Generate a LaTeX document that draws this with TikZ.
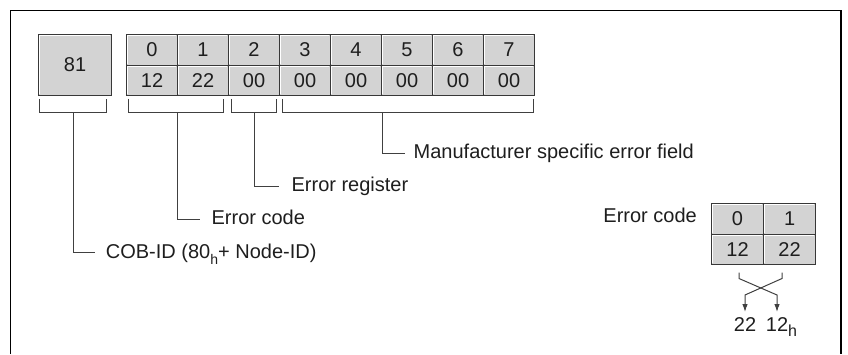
\documentclass[tikz,border=0pt]{standalone}
\usepackage{fontspec}
\setmainfont{Liberation Sans}
\usetikzlibrary{arrows.meta}
\definecolor{cellgray}{HTML}{D3D3D3}
\definecolor{edge}{HTML}{383838}
\definecolor{ink}{HTML}{1E1E1E}
\definecolor{lnkc}{HTML}{404040}
\newcommand{\hsubA}{\raisebox{-6pt}{\fontsize{14}{14}\selectfont h}}
\newcommand{\hsubB}{\raisebox{-5.5pt}{\fontsize{16}{16}\selectfont h}}
\begin{document}
\begin{tikzpicture}[x=1pt,y=-1pt,
  every node/.style={font=\fontsize{20}{24}\selectfont, text=ink},
  cell/.style={draw=edge, line width=1.1pt, fill=cellgray, inner sep=0pt,
    minimum width=51pt, minimum height=30.5pt, anchor=north west,
    path picture={\draw[white,line width=1pt]
      ([xshift=1.3pt,yshift=1.3pt]path picture bounding box.south west) |-
      ([xshift=-1.3pt,yshift=-1.3pt]path picture bounding box.north east);}},
  brk/.style={draw=none, inner sep=0pt, minimum height=13pt},
  lnk/.style={draw=lnkc, line width=1pt},
  lbl/.style={anchor=base west, inner ysep=0pt, text height=14.5pt, text depth=4pt},
  outl/.style={anchor=base, inner xsep=0pt, inner ysep=4.5pt, text height=14.3pt, text depth=0pt},
  tip/.style={-{Latex[length=8pt,width=5.5pt]}}
]
\useasboundingbox (0,0) rectangle (848,354);
% frame
\draw[line width=1.5pt] (10.5,354) -- (10.5,10.5) -- (841,10.5) -- (841,354);

% COB-ID box
\node[cell, minimum width=73pt, minimum height=61pt] (cob) at (38,34) {81};
% byte grid
\foreach \i/\v in {0/12,1/22,2/00,3/00,4/00,5/00,6/00,7/00}{
  \node[cell] (h\i) at ({126+51*\i},34) {\i};
  \node[cell] (v\i) at ({126+51*\i},64.5) {\v};
}

% brackets
\node[brk, minimum width=66pt] (bk0) at (73,105.5) {};
\node[brk, minimum width=94pt] (bk1) at (176,105.5) {};
\node[brk, minimum width=44pt] (bk2) at (254,105.5) {};
\node[brk, minimum width=250pt] (bk3) at (408,105.5) {};
\foreach \b in {bk0,bk1,bk2,bk3}{
  \draw[lnk] (\b.north west) |- (\b.south east) -- (\b.north east);
}

% labels
\node[lbl, inner xsep=8.5pt] (lm) at (405,158.5) {Manufacturer specific error field};
\node[lbl, inner xsep=12.4pt] (lr) at (279,191.5) {Error register};
\node[lbl, inner xsep=11.4pt] (lc) at (200,224.5) {Error code};
\node[lbl, inner xsep=10.7pt] (lcob) at (95,258) {COB-ID (80\hsubA+ Node-ID)};

\draw[lnk] ([xshift=-26pt]bk3.south) |- (lm.west);
\draw[lnk] (bk2.south) |- (lr.west);
\draw[lnk] ([xshift=1pt]bk1.south) |- (lc.west);
\draw[lnk] (bk0.south) |- (lcob.west);

% error code detail
\node[anchor=base east, inner sep=0pt] (lec) at (697,222) {Error code};
\node[cell, minimum width=52pt] (e0) at (711,203) {0};
\node[cell, minimum width=52pt] (e1) at (763,203) {1};
\node[cell, minimum width=52pt] (e12) at (711,233.5) {12};
\node[cell, minimum width=52pt] (e22) at (763,233.5) {22};

\node[outl] (o22) at (745,331) {22};
\node[outl] (o12) at (777,331) {12\rlap{\hsubB}};
\coordinate (t1) at (739,272.5);
\coordinate (t2) at (782,272.5);
\draw[lnk,tip] (t1) -- ++(0,6) -- (o12.north |- 0,295) -- (o12.north);
\draw[lnk,tip] (t2) -- ++(0,6) -- (o22.north |- 0,295) -- (o22.north);
\end{tikzpicture}
\end{document}
